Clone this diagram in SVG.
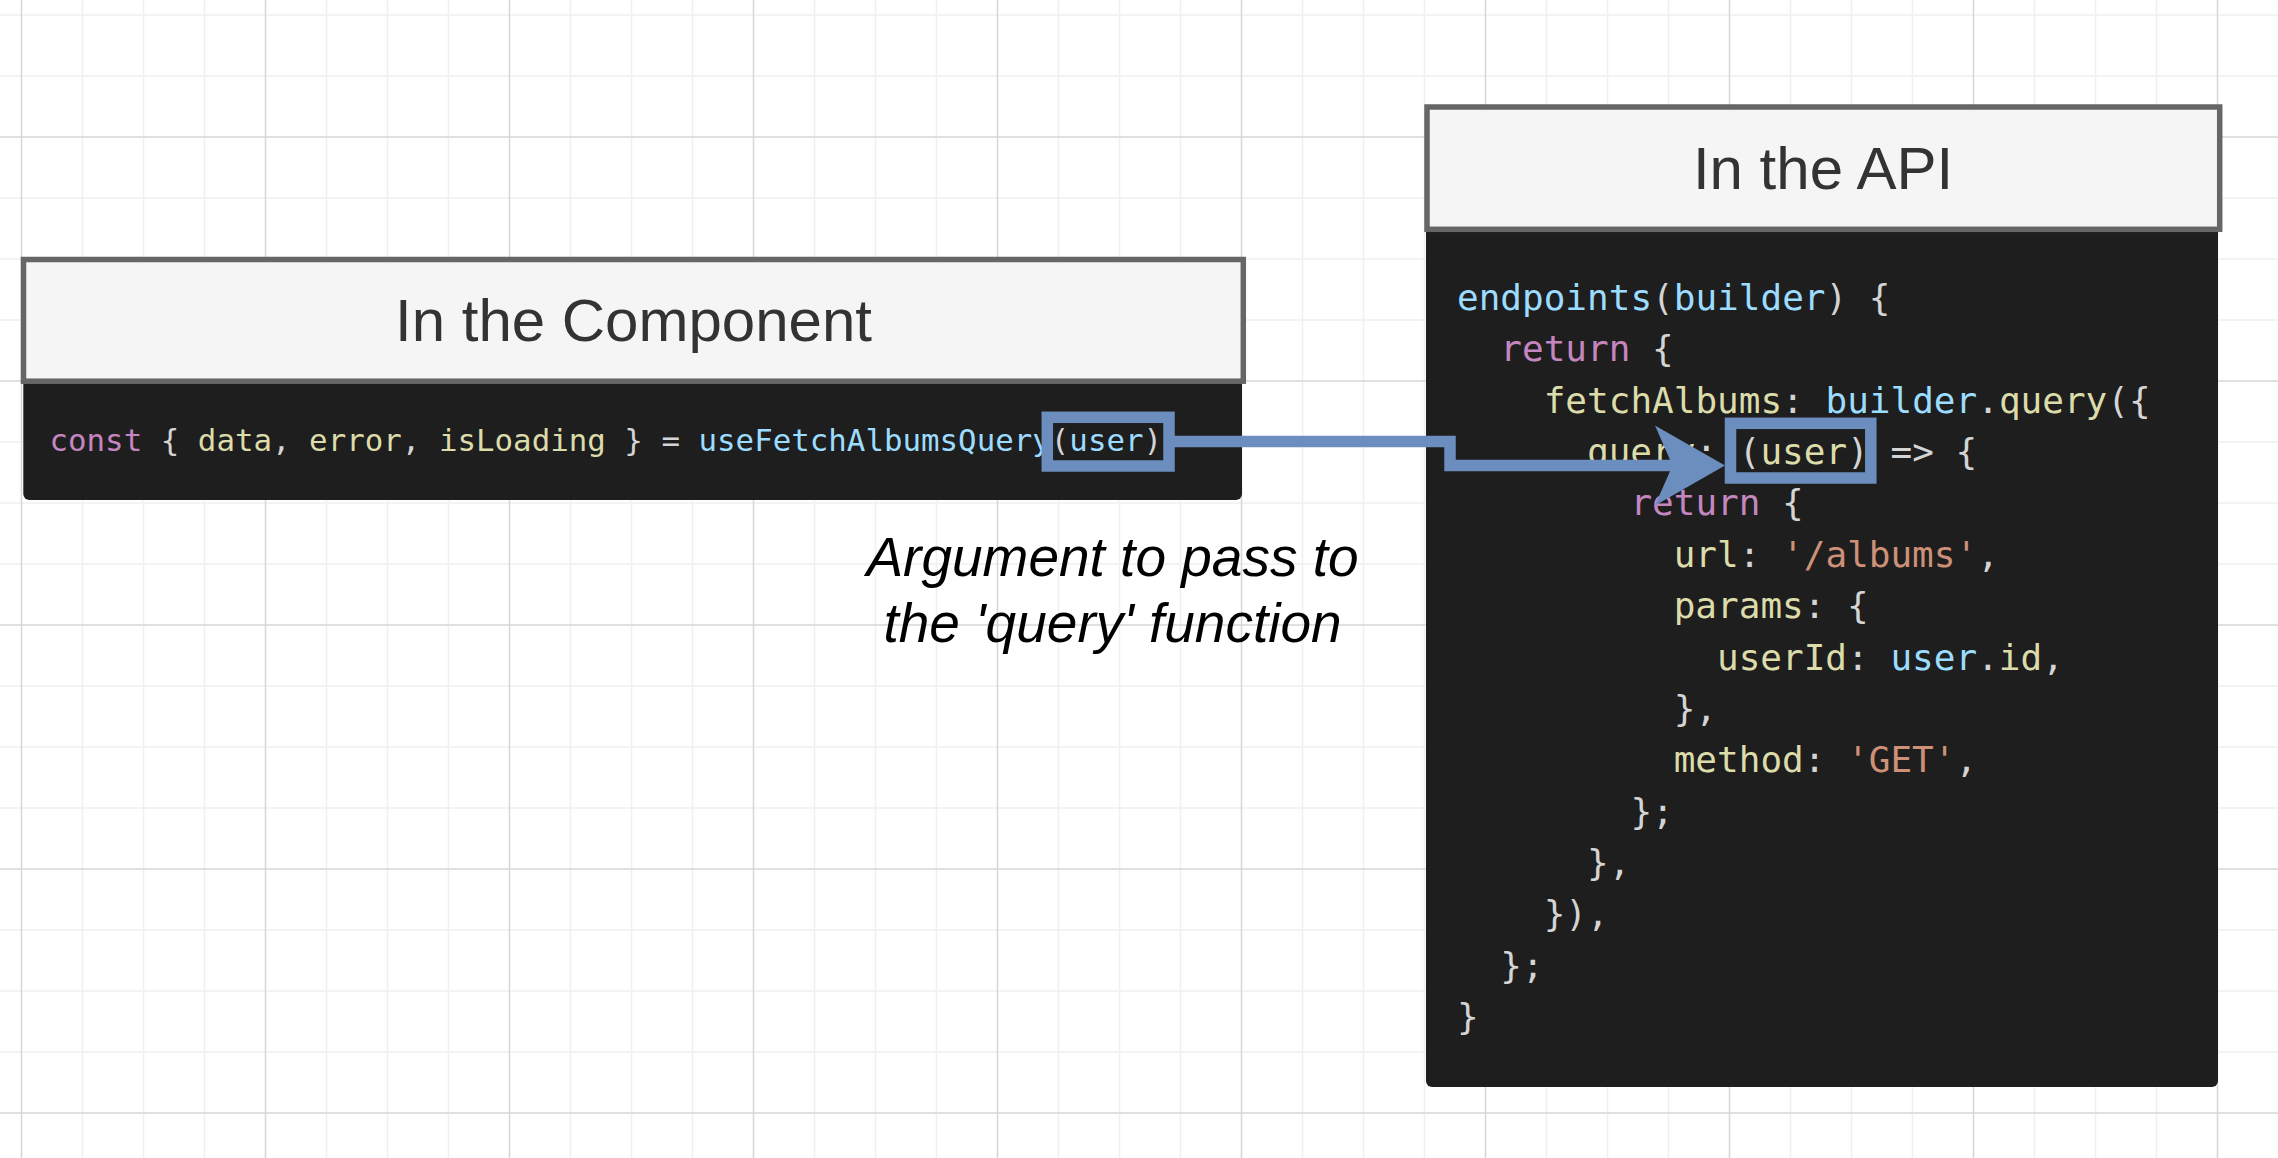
<svg xmlns="http://www.w3.org/2000/svg" width="2278" height="1158" viewBox="0 0 2278 1158">
<style>
.gmin{stroke:#f0f0f0;stroke-width:1.5;fill:none}
.gmaj{stroke:#d6d6d6;stroke-width:1.5;fill:none}
.hdr{fill:#f5f5f5;stroke:#666666;stroke-width:5.5}
.code{fill:#1e1e1e}
.title{font-family:"Liberation Sans",Arial,sans-serif;font-size:60px;fill:#333333;text-anchor:middle}
.mono{font-family:"DejaVu Sans Mono",monospace;white-space:pre}
.m1{font-size:30.8px}
.m2{font-size:36px}
.k{fill:#c586c0}.p{fill:#d4d4d4}.y{fill:#dcdcaa}.b{fill:#9cdcfe}.s{fill:#ce9178}
.hl{fill:none;stroke:#6c8ebf;stroke-width:11.5}
.conn{fill:none;stroke:#6c8ebf;stroke-width:11.5;stroke-linejoin:miter}
.lbl{font-family:"Liberation Sans",Arial,sans-serif;font-size:55px;font-style:italic;fill:#000000;text-anchor:middle}
</style>
<rect width="2278" height="1158" fill="#ffffff"/>
<g id="grid">
<path class="gmin" d="M82.5 0V1158M143.5 0V1158M204.5 0V1158M326.5 0V1158M387.5 0V1158M448.5 0V1158M570.5 0V1158M631.5 0V1158M692.5 0V1158M814.5 0V1158M875.5 0V1158M936.5 0V1158M1058.5 0V1158M1119.5 0V1158M1180.5 0V1158M1302.5 0V1158M1363.5 0V1158M1424.5 0V1158M1546.5 0V1158M1607.5 0V1158M1668.5 0V1158M1790.5 0V1158M1851.5 0V1158M1912.5 0V1158M2034.5 0V1158M2095.5 0V1158M2156.5 0V1158M0 15H2278M0 76H2278M0 198H2278M0 259H2278M0 320H2278M0 442H2278M0 503H2278M0 564H2278M0 686H2278M0 747H2278M0 808H2278M0 930H2278M0 991H2278M0 1052H2278"/>
<path class="gmaj" d="M21.5 0V1158M265.5 0V1158M509.5 0V1158M753.5 0V1158M997.5 0V1158M1241.5 0V1158M1485.5 0V1158M1729.5 0V1158M1973.5 0V1158M2217.5 0V1158M0 137H2278M0 381H2278M0 625H2278M0 869H2278M0 1113H2278"/>
</g>
<g id="component">
<rect class="code" x="23.3" y="378" width="1218.7" height="122" rx="6"/>
<rect class="hdr" x="23.5" y="259.5" width="1219.8" height="121.7"/>
<text class="title" x="633.5" y="341">In the Component</text>
<text class="mono m1" x="49.5" y="450.5" xml:space="preserve"><tspan class="k">const</tspan><tspan class="p"> { </tspan><tspan class="y">data</tspan><tspan class="p">, </tspan><tspan class="y">error</tspan><tspan class="p">, </tspan><tspan class="y">isLoading</tspan><tspan class="p"> } = </tspan><tspan class="b">useFetchAlbumsQuery</tspan><tspan class="p">(</tspan><tspan class="b">user</tspan><tspan class="p">)</tspan></text>
</g>
<g id="api">
<rect class="code" x="1426" y="226" width="792" height="861" rx="6"/>
<rect class="hdr" x="1427" y="107" width="792.7" height="122.3"/>
<text class="title" x="1823" y="188.5">In the API</text>
<g class="mono m2">
<text x="1457" y="310" xml:space="preserve"><tspan class="b">endpoints</tspan><tspan class="p">(</tspan><tspan class="b">builder</tspan><tspan class="p">) {</tspan></text>
<text x="1500.3" y="361.4" xml:space="preserve"><tspan class="k">return</tspan><tspan class="p"> {</tspan></text>
<text x="1543.7" y="412.7" xml:space="preserve"><tspan class="y">fetchAlbums</tspan><tspan class="p">: </tspan><tspan class="b">builder</tspan><tspan class="p">.</tspan><tspan class="y">query</tspan><tspan class="p">({</tspan></text>
<text x="1587" y="464" xml:space="preserve"><tspan class="y">query</tspan><tspan class="p">: (</tspan><tspan class="y">user</tspan><tspan class="p">) =&gt; {</tspan></text>
<text x="1630.4" y="515.4" xml:space="preserve"><tspan class="k">return</tspan><tspan class="p"> {</tspan></text>
<text x="1673.7" y="566.8" xml:space="preserve"><tspan class="y">url</tspan><tspan class="p">: </tspan><tspan class="s">'/albums'</tspan><tspan class="p">,</tspan></text>
<text x="1673.7" y="618.1" xml:space="preserve"><tspan class="y">params</tspan><tspan class="p">: {</tspan></text>
<text x="1717" y="669.5" xml:space="preserve"><tspan class="y">userId</tspan><tspan class="p">: </tspan><tspan class="b">user</tspan><tspan class="p">.</tspan><tspan class="y">id</tspan><tspan class="p">,</tspan></text>
<text x="1673.7" y="720.8" xml:space="preserve"><tspan class="p">},</tspan></text>
<text x="1673.7" y="772.2" xml:space="preserve"><tspan class="y">method</tspan><tspan class="p">: </tspan><tspan class="s">'GET'</tspan><tspan class="p">,</tspan></text>
<text x="1630.4" y="823.5" xml:space="preserve"><tspan class="p">};</tspan></text>
<text x="1587" y="874.9" xml:space="preserve"><tspan class="p">},</tspan></text>
<text x="1543.7" y="926.2" xml:space="preserve"><tspan class="p">}),</tspan></text>
<text x="1500.3" y="977.6" xml:space="preserve"><tspan class="p">};</tspan></text>
<text x="1457" y="1029" xml:space="preserve"><tspan class="p">}</tspan></text>
</g>
</g>
<g id="highlight-component-arg">
<rect class="hl" x="1047.3" y="417.3" width="121.7" height="48.7"/>
</g>
<g id="highlight-api-arg">
<rect class="hl" x="1730.5" y="423.3" width="140.3" height="54.7"/>
</g>
<g id="connectors">
<path class="conn" d="M1169 441.5H1450V465.5H1674"/>
<polygon fill="#6c8ebf" points="1725,465.5 1655,425.5 1672.5,465.5 1655,505.5"/>
</g>
<g id="label">
<text class="lbl" x="1112.5" y="576">Argument to pass to</text>
<text class="lbl" x="1112.5" y="641.5">the 'query' function</text>
</g>
</svg>
